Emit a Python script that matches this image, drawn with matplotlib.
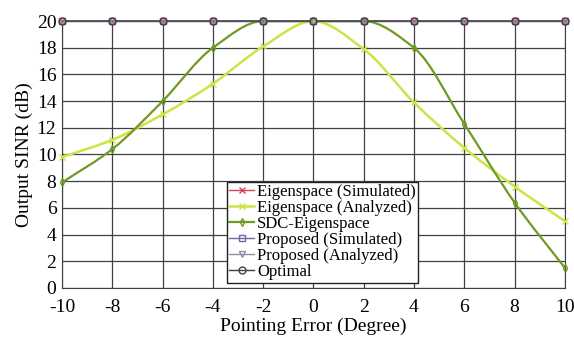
import numpy as np
import matplotlib.pyplot as plt
from matplotlib.path import Path
from matplotlib.patches import PathPatch

plt.rcParams['font.family'] = ['Liberation Serif', 'DejaVu Serif']
plt.rcParams['axes.unicode_minus'] = False

error = [-10, -8, -6, -4, -2, 0, 2, 4, 6, 8, 10]
eig_sim = [20, 20, 20, 20, 20, 20, 20, 20, 20, 20, 20]
eig_ana = [9.8, 11.1, 13.0, 15.3, 18.1, 20.0, 17.9, 13.9, 10.5, 7.6, 5.0]
sdc_eig = [7.9, 10.4, 14.0, 18.0, 20.0, 20.0, 20.0, 18.0, 12.3, 6.4, 1.5]
prop_sim = [20, 20, 20, 20, 20, 20, 20, 20, 20, 20, 20]
prop_ana = [20, 20, 20, 20, 20, 20, 20, 20, 20, 20, 20]
optimal = [20, 20, 20, 20, 20, 20, 20, 20, 20, 20, 20]


def smooth_path(x, y):
    # monotone cubic (fritsch-carlson tangents) written as bezier segments
    x = np.asarray(x, float)
    y = np.asarray(y, float)
    h = np.diff(x)
    d = np.diff(y) / h
    m = np.zeros_like(y)
    m[0], m[-1] = d[0], d[-1]
    for i in range(1, len(y) - 1):
        if d[i - 1] * d[i] > 0:
            m[i] = 2.0 / (1.0 / d[i - 1] + 1.0 / d[i])
    verts = [(x[0], y[0])]
    codes = [Path.MOVETO]
    for i in range(len(x) - 1):
        verts += [(x[i] + h[i] / 3, y[i] + m[i] * h[i] / 3),
                  (x[i + 1] - h[i] / 3, y[i + 1] - m[i + 1] * h[i] / 3),
                  (x[i + 1], y[i + 1])]
        codes += [Path.CURVE4] * 3
    return Path(verts, codes)


def curve(ax, x, y, color, marker, ms, label, mfc='none', lw=1.4):
    ax.add_patch(PathPatch(smooth_path(x, y), fill=False, edgecolor=color, lw=lw,
                           zorder=3, clip_on=False))
    ax.plot(x, y, linestyle='none', marker=marker, ms=ms, color=color,
            mfc=mfc, mew=1.0, zorder=4, clip_on=False)
    ax.plot([], [], color=color, marker=marker, ms=ms, mfc=mfc, mew=1.0, lw=lw, label=label)


fig = plt.figure(figsize=(5.74, 3.46), dpi=100)
ax = fig.add_axes([0.108, 0.168, 0.876, 0.771])

curve(ax, error, eig_sim, '#d9405a', 'x', 4, 'Eigenspace (Simulated)', lw=1.0)
curve(ax, error, eig_ana, '#cde346', 'x', 4, 'Eigenspace (Analyzed)', lw=1.8)
curve(ax, error, sdc_eig, '#6f9a24', 'd', 4, 'SDC-Eigenspace', lw=1.6)
curve(ax, error, prop_sim, '#6a6aaa', 's', 4, 'Proposed (Simulated)', lw=1.0)
curve(ax, error, prop_ana, '#9a8aaa', 'v', 5, 'Proposed (Analyzed)', lw=1.0)
curve(ax, error, optimal, '#404040', 'o', 5, 'Optimal', lw=1.0)

ax.set_xlim(-10, 10)
ax.set_ylim(0, 20)
ax.set_xticks(np.arange(-10, 11, 2))
ax.set_yticks(np.arange(0, 21, 2))
ax.grid(True, color='#404040', lw=0.9)
ax.set_axisbelow(True)
for s in ax.spines.values():
    s.set_color('#404040')
ax.tick_params(length=0, labelsize=14)
ax.tick_params(axis='x', pad=8)
ax.tick_params(axis='y', pad=4)
ax.set_xlabel('Pointing Error (Degree)', fontsize=14, labelpad=1)
ax.set_ylabel('Output SINR (dB)', fontsize=14, labelpad=3)

leg = ax.legend(loc='lower left', bbox_to_anchor=(0.328, 0.02), fontsize=12,
                frameon=True, fancybox=False, edgecolor='#202020', framealpha=1,
                handlelength=1.5, handletextpad=0.15, labelspacing=0.0,
                borderpad=0.15, borderaxespad=0)
leg.get_frame().set_linewidth(1.0)

fig.savefig('out.png', dpi=100)
